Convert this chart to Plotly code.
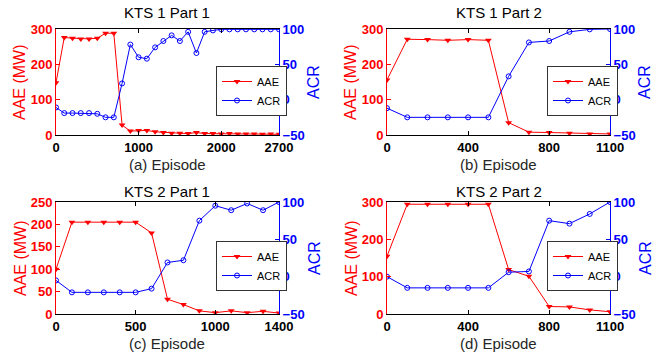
import plotly.graph_objects as go

# ---------------- data ----------------
ep_a = list(range(0, 2701, 100))
aae_a = [148, 276, 274, 272, 272, 274, 288, 288, 28, 11, 13, 13, 9, 7, 5, 5, 4, 7, 4, 4, 3, 4, 3, 3, 3, 2, 3, 2]
acr_a = [-11, -19, -19, -19, -19, -20, -25, -25, 23, 78, 60, 58, 74, 83, 91, 83, 96, 66, 96, 98, 99.5, 99.5, 99.5, 99.5, 99.5, 99.5, 99.5, 99.5]

ep_b = list(range(0, 1101, 100))
aae_b = [156, 271, 270, 268, 270, 268, 35, 8, 7, 5, 3, 3]
acr_b = [-12, -25, -25, -25, -25, -25, 33, 81, 83, 96, 99.5, 100]

ep_c = list(range(0, 1401, 100))
aae_c = [100, 205, 205, 205, 205, 205, 181, 33, 21, 7, 3, 7, 3, 6, 2]
acr_c = [-5, -21, -21, -21, -21, -21, -16, 19, 22, 75, 95, 89, 98, 89, 100]

ep_d = list(range(0, 1101, 100))
aae_d = [155, 294, 294, 294, 294, 294, 119, 101, 20, 19, 11, 6]
acr_d = [0, -15, -15, -15, -15, -15, 6, 7, 75, 71, 84, 100]

titles = ["KTS 1 Part 1", "KTS 1 Part 2", "KTS 2 Part 1", "KTS 2 Part 2"]
xlabels = ["(a) Episode", "(b) Episode", "(c) Episode", "(d) Episode"]
xticks = [[0, 1000, 2000, 2700], [0, 400, 800, 1100], [0, 500, 1000, 1400], [0, 400, 800, 1100]]
aae_ticks = [[0, 100, 200, 300], [0, 100, 200, 300], [0, 50, 100, 150, 200, 250], [0, 100, 200, 300]]
aae_max = [300, 300, 250, 300]
acr_ticks = [-50, 0, 50, 100]

panels = [(ep_a, aae_a, acr_a), (ep_b, aae_b, acr_b), (ep_c, aae_c, acr_c), (ep_d, aae_d, acr_d)]

W, H = 662, 355
xpix = [[56, 279], [387, 610]]
ypix = [[29, 135], [202, 314]]
xdoms = [[a / W, b / W] for a, b in xpix]
ydoms = [[1 - b / H, 1 - a / H] for a, b in ypix]

RED = "#ff0000"
BLUE = "#0000ff"
FONT = "Liberation Sans"

fig = go.Figure()
layout = dict(
    width=W, height=H,
    margin=dict(l=0, r=0, t=0, b=0, autoexpand=False),
    paper_bgcolor="white", plot_bgcolor="white",
    font=dict(family=FONT, size=13, color="black"),
    showlegend=True,
)
annotations = []

for i, (ep, aae, acr) in enumerate(panels):
    col = i % 2
    row = i // 2
    xa = "x" if i == 0 else f"x{i + 1}"
    ya = f"y{2 * i + 1}" if i > 0 else "y"
    ya2 = f"y{2 * i + 2}"
    leg = "legend" if i == 0 else f"legend{i + 1}"

    fig.add_trace(go.Scatter(
        x=ep, y=aae, name="AAE", mode="lines+markers",
        line=dict(color=RED, width=1),
        marker=dict(symbol="triangle-down", size=6, color=RED),
        xaxis=xa, yaxis=ya, legend=leg, showlegend=True))
    fig.add_trace(go.Scatter(
        x=ep, y=acr, name="ACR", mode="lines+markers",
        line=dict(color=BLUE, width=1),
        marker=dict(symbol="circle-open", size=5, color=BLUE, line=dict(width=1)),
        xaxis=xa, yaxis=ya2, legend=leg, showlegend=True))

    xkey = "xaxis" if i == 0 else f"xaxis{i + 1}"
    ykey = "yaxis" if i == 0 else f"yaxis{2 * i + 1}"
    y2key = f"yaxis{2 * i + 2}"
    layout[xkey] = dict(
        domain=xdoms[col], anchor=ya, range=[0, ep[-1]],
        tickvals=xticks[i], ticktext=[str(v) for v in xticks[i]],
        ticks="inside", ticklen=4, tickcolor="black",
        showline=True, linecolor="black", linewidth=1, mirror="ticks",
        showgrid=False, zeroline=False, automargin=False,
        tickfont=dict(family=FONT, size=13, color="black", weight="bold"),
    )
    layout[ykey] = dict(
        domain=ydoms[row], anchor=xa, range=[0, aae_max[i]],
        tickvals=aae_ticks[i],
        ticks="inside", ticklen=4, tickcolor=RED,
        showline=True, linecolor=RED, linewidth=1,
        showgrid=False, zeroline=False, automargin=False,
        tickfont=dict(family=FONT, size=13, color=RED, weight="bold"),
    )
    layout[y2key] = dict(
        overlaying=ya, anchor=xa, side="right", range=[-50, 100],
        tickvals=acr_ticks,
        ticks="inside", ticklen=4, tickcolor=BLUE,
        showline=True, linecolor=BLUE, linewidth=1,
        showgrid=False, zeroline=False, automargin=False,
        tickfont=dict(family=FONT, size=13, color=BLUE, weight="bold"),
    )
    lx = (216 if col == 0 else 547) / W
    ly = 1 - (66 if row == 0 else 241) / H
    layout[leg] = dict(
        x=lx, y=ly, xanchor="left", yanchor="top",
        bgcolor="white", bordercolor="#333333", borderwidth=1,
        font=dict(family=FONT, size=11, color="black"),
        itemwidth=30, tracegroupgap=0,
    )
    off = 0 if col == 0 else 331
    xc = (xdoms[col][0] + xdoms[col][1]) / 2
    yc = (ydoms[row][0] + ydoms[row][1]) / 2
    # panel title
    annotations.append(dict(
        text=titles[i], x=xc, y=1 - (13 if row == 0 else 192) / H,
        xref="paper", yref="paper", xanchor="center", yanchor="middle", showarrow=False,
        font=dict(family=FONT, size=15, color="black")))
    # x-axis title
    annotations.append(dict(
        text=xlabels[i], x=xc, y=1 - (164 if row == 0 else 343) / H,
        xref="paper", yref="paper", xanchor="center", yanchor="middle", showarrow=False,
        font=dict(family=FONT, size=15, color="#262626")))
    # left y title
    annotations.append(dict(
        text="AAE (MW)", x=(off + 20) / W, y=yc, textangle=-90,
        xref="paper", yref="paper", xanchor="center", yanchor="middle", showarrow=False,
        font=dict(family=FONT, size=16, color=RED)))
    # right y title
    annotations.append(dict(
        text="ACR", x=(off + 314) / W, y=yc, textangle=-90,
        xref="paper", yref="paper", xanchor="center", yanchor="middle", showarrow=False,
        font=dict(family=FONT, size=16, color=BLUE)))

layout["annotations"] = annotations
fig.update_layout(**layout)
fig.write_html(
    "out.html",
    config={"displayModeBar": False},
    post_script="document.body.style.margin='0';document.body.style.padding='0';",
)
